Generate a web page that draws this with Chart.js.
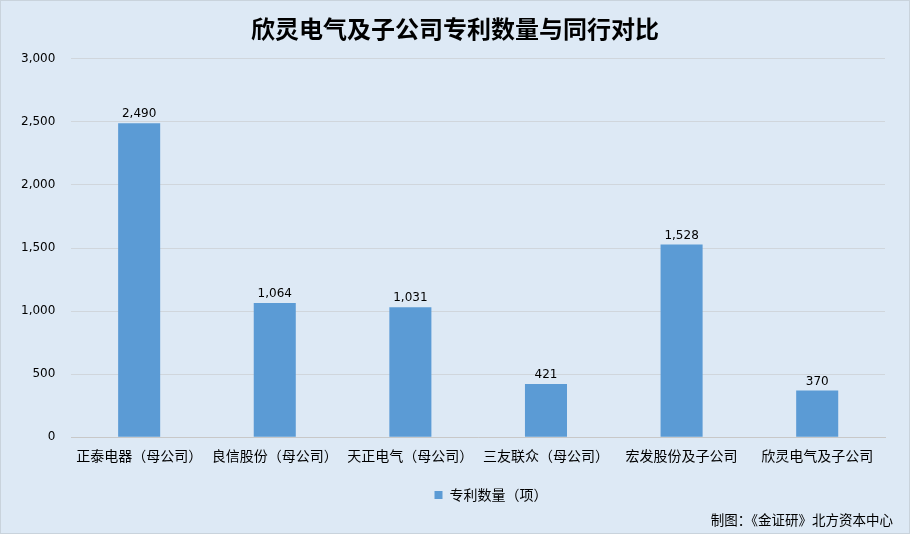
<!DOCTYPE html>
<html><head><meta charset="utf-8">
<script src="https://cdn.jsdelivr.net/npm/chart.js@4/dist/chart.umd.min.js"></script>
<style>
html,body{margin:0;padding:0;background:#dde9f5;}
#wrap{width:908px;height:532px;border:1px solid #c9d3dc;background:#dde9f5;}
</style></head><body>
<div id="wrap"><canvas id="c" width="908" height="532"></canvas></div>
<script>
const categories = ["正泰电器（母公司）","良信股份（母公司）","天正电气（母公司）","三友联众（母公司）","宏发股份及子公司","欣灵电气及子公司"];
const patents = [2490, 1064, 1031, 421, 1528, 370];
const seriesName = "专利数量（项）";
const titleText = "欣灵电气及子公司专利数量与同行对比";
const sourceText = "制图：《金证研》北方资本中心";
const FONT = "'Noto Sans CJK SC','DejaVu Sans',sans-serif";

const labelPlugin = {
  id: 'labels',
  afterLayout(chart) {
    if (chart.legend) { chart.legend.left += 46; chart.legend.right += 46; }
    if (chart.titleBlock) { chart.titleBlock.left += 10; chart.titleBlock.right += 10; }
  },
  afterDatasetsDraw(chart) {
    const ctx = chart.ctx;
    const meta = chart.getDatasetMeta(0);
    ctx.save();
    ctx.font = "12px 'DejaVu Sans', sans-serif";
    ctx.fillStyle = '#000';
    ctx.textAlign = 'center';
    ctx.textBaseline = 'bottom';
    meta.data.forEach((bar, i) => {
      ctx.fillText(patents[i].toLocaleString('en-US'), bar.x, bar.y - 3);
    });
    ctx.restore();
  },
  afterDraw(chart) {
    const ctx = chart.ctx;
    ctx.save();
    ctx.font = "13.5px " + FONT;
    ctx.fillStyle = '#000';
    ctx.textAlign = 'right';
    ctx.textBaseline = 'middle';
    ctx.fillText(sourceText, 892, 519);
    ctx.restore();
  }
};

new Chart(document.getElementById('c'), {
  type: 'bar',
  data: {
    labels: categories,
    datasets: [{
      label: seriesName,
      data: patents,
      backgroundColor: '#5b9bd5',
      barPercentage: 0.62,
      categoryPercentage: 0.5
    }]
  },
  options: {
    responsive: false,
    animation: false,
    layout: { padding: { left: 4, right: 24, top: 0, bottom: 21 } },
    plugins: {
      title: {
        display: true, text: titleText, color: '#000',
        font: { family: FONT, size: 24, weight: 'bold' },
        padding: { top: 13, bottom: 16 }
      },
      legend: {
        position: 'bottom',
        labels: {
          color: '#000', boxWidth: 8, boxHeight: 8,
          font: { family: FONT, size: 14 }, padding: 14
        }
      },
      tooltip: { enabled: false }
    },
    scales: {
      x: {
        grid: { display: false, drawTicks: false },
        border: { color: '#c8c8c8' },
        ticks: { color: '#000', font: { family: FONT, size: 14 }, padding: 10, maxRotation: 0, autoSkip: false }
      },
      y: {
        min: 0, max: 3000,
        grid: { color: '#d0d6dc', drawTicks: false },
        border: { display: false },
        ticks: { stepSize: 500, color: '#000', font: { family: "'DejaVu Sans', sans-serif", size: 12 }, padding: 16,
          callback: v => v.toLocaleString('en-US') }
      }
    }
  },
  plugins: [labelPlugin]
});
</script>
</body></html>
